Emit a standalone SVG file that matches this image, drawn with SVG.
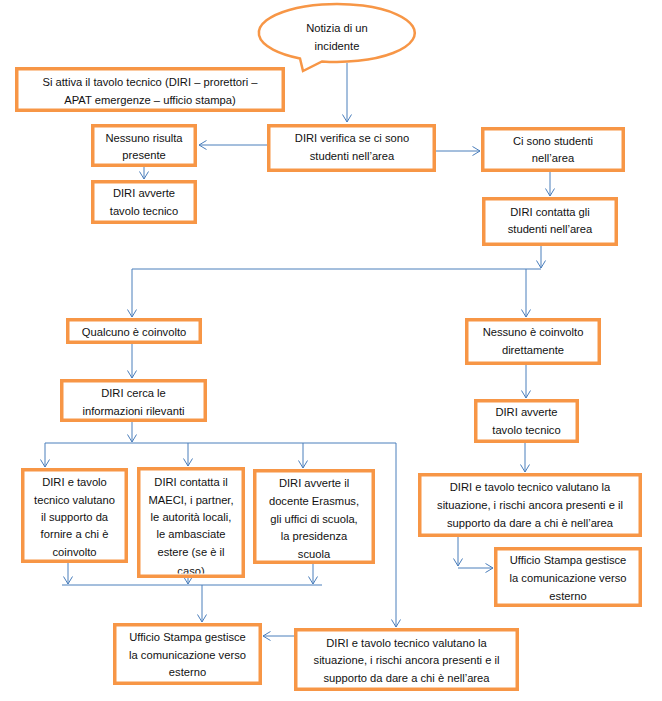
<svg xmlns="http://www.w3.org/2000/svg" width="662" height="701" viewBox="0 0 662 701">
<defs>
<style>
.box{fill:#fff;stroke:#F79646;stroke-width:3.5}
.t{font-family:"Liberation Sans",Arial,sans-serif;font-size:11.2px;fill:#111;text-anchor:middle}
.c{fill:none;stroke:#4A7EBB;stroke-width:1}
.ca{fill:none;stroke:#4A7EBB;stroke-width:1;marker-end:url(#a)}
</style>
<marker id="a" viewBox="0 0 10 10" refX="9.5" refY="5" markerWidth="10" markerHeight="10" markerUnits="userSpaceOnUse" orient="auto">
<path d="M2,0.5 L9.5,5 L2,9.5" fill="none" stroke="#4A7EBB" stroke-width="1"/>
</marker>
<clipPath id="clipb2"><rect x="139" y="469" width="104" height="104.5"/></clipPath>
</defs>
<rect width="662" height="701" fill="#fff"/>

<g id="connectors">
<path class="ca" d="M347,63 V122"/>
<path class="ca" d="M267,145 H199"/>
<path class="ca" d="M144,167 V179"/>
<path class="ca" d="M436,151 H480"/>
<path class="ca" d="M550,172 V196"/>
<path class="ca" d="M541,246 V268"/>
<path class="c" d="M132,269 H541"/>
<path class="ca" d="M132,269 V317"/>
<path class="ca" d="M526,269 V317"/>
<path class="ca" d="M132,344 V378"/>
<path class="ca" d="M132,422 V442"/>
<path class="c" d="M45,443 H396"/>
<path class="ca" d="M396,443 V627"/>
<path class="ca" d="M45,443 V467"/>
<path class="ca" d="M188,443 V466"/>
<path class="ca" d="M303,443 V468"/>
<path class="ca" d="M68,563 V584"/>
<path class="ca" d="M188,578 V584"/>
<path class="ca" d="M313,564 V584"/>
<path class="c" d="M62,585 H322"/>
<path class="ca" d="M202,585 V622"/>
<path class="ca" d="M294,636 H263"/>
<path class="ca" d="M526,365 V398"/>
<path class="ca" d="M525,443 V472"/>
<path class="ca" d="M458,537 V566"/>
<path class="ca" d="M458,568 H493"/>
</g>

<g id="notizia">
<path d="M300,58.5 L303,71 L322,61.4 A78,29 0 1 0 300,58.5 Z" fill="#fff" stroke="#F79646" stroke-width="2.5"/>
<text class="t" x="337" y="32">Notizia di un</text>
<text class="t" x="337" y="50">incidente</text>
</g>

<g id="tavolo">
<rect class="box" x="16.75" y="68.75" width="266.5" height="41.5"/>
<text class="t" x="150" y="86">Si attiva il tavolo tecnico (DIRI – prorettori –</text>
<text class="t" x="150" y="104">APAT emergenze – ufficio stampa)</text>
</g>

<g id="verifica">
<rect class="box" x="268.75" y="125.75" width="165.5" height="44.5"/>
<text class="t" x="352" y="142">DIRI verifica se ci sono</text>
<text class="t" x="352" y="160">studenti nell’area</text>
</g>

<g id="nessuno-risulta">
<rect class="box" x="92.75" y="125.75" width="102.5" height="39.5"/>
<text class="t" x="144" y="142">Nessuno risulta</text>
<text class="t" x="144" y="159">presente</text>
</g>

<g id="avverte-sx">
<rect class="box" x="92.75" y="181.75" width="102.5" height="40.5"/>
<text class="t" x="144" y="197">DIRI avverte</text>
<text class="t" x="144" y="215">tavolo tecnico</text>
</g>

<g id="ci-sono">
<rect class="box" x="482.75" y="128.75" width="140.5" height="41.5"/>
<text class="t" x="553" y="145">Ci sono studenti</text>
<text class="t" x="553" y="162">nell’area</text>
</g>

<g id="contatta">
<rect class="box" x="483.75" y="198.75" width="132.5" height="45.5"/>
<text class="t" x="550" y="216">DIRI contatta gli</text>
<text class="t" x="550" y="233">studenti nell’area</text>
</g>

<g id="qualcuno">
<rect class="box" x="67.75" y="319.75" width="132.5" height="22.5"/>
<text class="t" x="134" y="336">Qualcuno è coinvolto</text>
</g>

<g id="cerca">
<rect class="box" x="61.75" y="380.75" width="143.5" height="39.5"/>
<text class="t" x="133.5" y="397">DIRI cerca le</text>
<text class="t" x="133.5" y="415">informazioni rilevanti</text>
</g>

<g id="nessuno-coinvolto">
<rect class="box" x="466.75" y="319.75" width="132.5" height="43.5"/>
<text class="t" x="533" y="336">Nessuno è coinvolto</text>
<text class="t" x="533" y="354">direttamente</text>
</g>

<g id="avverte-dx">
<rect class="box" x="475.75" y="400.75" width="101.5" height="40.5"/>
<text class="t" x="526.5" y="416">DIRI avverte</text>
<text class="t" x="526.5" y="434">tavolo tecnico</text>
</g>

<g id="valutano-dx">
<rect class="box" x="419.75" y="474.75" width="220.5" height="60.5"/>
<text class="t" x="530" y="491">DIRI e tavolo tecnico valutano la</text>
<text class="t" x="530" y="509">situazione, i rischi ancora presenti e il</text>
<text class="t" x="530" y="527">supporto da dare a chi è nell’area</text>
</g>

<g id="ufficio-dx">
<rect class="box" x="495.75" y="548.75" width="144.5" height="56.5"/>
<text class="t" x="568" y="564">Ufficio Stampa gestisce</text>
<text class="t" x="568" y="582">la comunicazione verso</text>
<text class="t" x="568" y="600">esterno</text>
</g>

<g id="supporto">
<rect class="box" x="22.75" y="469.75" width="103.5" height="91.5"/>
<text class="t" x="74.5" y="486">DIRI e tavolo</text>
<text class="t" x="74.5" y="504">tecnico valutano</text>
<text class="t" x="74.5" y="521">il supporto da</text>
<text class="t" x="74.5" y="538">fornire a chi è</text>
<text class="t" x="74.5" y="556">coinvolto</text>
</g>

<g id="maeci">
<rect class="box" x="138.75" y="468.75" width="104.5" height="107.5"/>
<g clip-path="url(#clipb2)">
<text class="t" x="191" y="486">DIRI contatta il</text>
<text class="t" x="191" y="504">MAECI, i partner,</text>
<text class="t" x="191" y="521">le autorità locali,</text>
<text class="t" x="191" y="538">le ambasciate</text>
<text class="t" x="191" y="556">estere (se è il</text>
<text class="t" x="191" y="575">caso)</text>
</g>
</g>

<g id="erasmus">
<rect class="box" x="254.75" y="470.75" width="118.5" height="91.5"/>
<text class="t" x="314" y="487">DIRI avverte il</text>
<text class="t" x="314" y="505">docente Erasmus,</text>
<text class="t" x="314" y="523">gli uffici di scuola,</text>
<text class="t" x="314" y="540">la presidenza</text>
<text class="t" x="314" y="558">scuola</text>
</g>

<g id="ufficio-sx">
<rect class="box" x="114.75" y="624.75" width="145.5" height="58.5"/>
<text class="t" x="187.5" y="641">Ufficio Stampa gestisce</text>
<text class="t" x="187.5" y="659">la comunicazione verso</text>
<text class="t" x="187.5" y="676">esterno</text>
</g>

<g id="valutano-sx">
<rect class="box" x="295.75" y="629.75" width="221.5" height="59.5"/>
<text class="t" x="406.5" y="647">DIRI e tavolo tecnico valutano la</text>
<text class="t" x="406.5" y="664">situazione, i rischi ancora presenti e il</text>
<text class="t" x="406.5" y="682">supporto da dare a chi è nell’area</text>
</g>
</svg>
